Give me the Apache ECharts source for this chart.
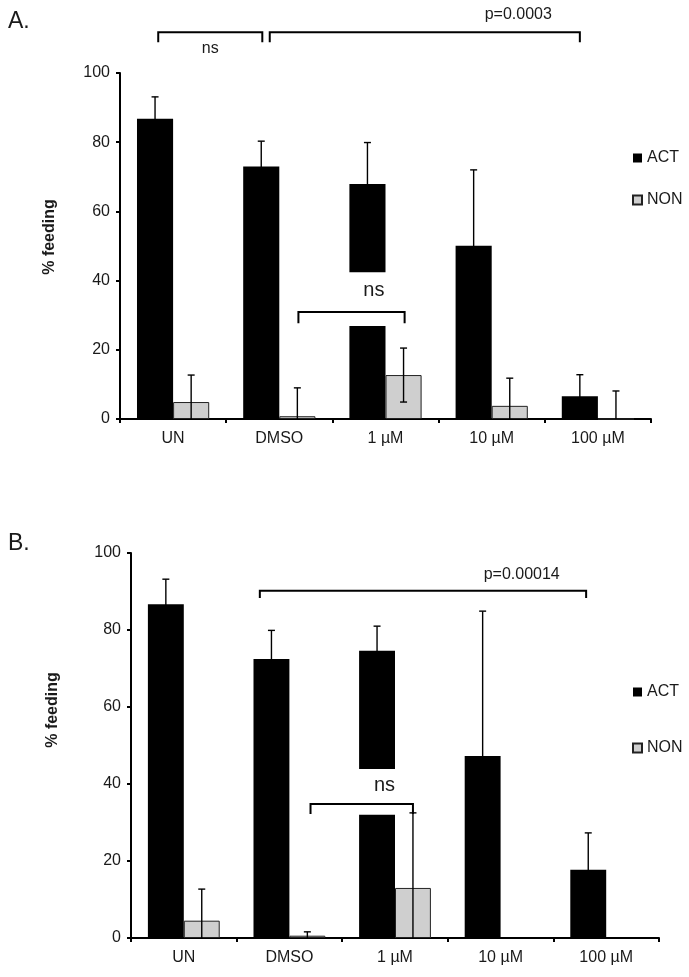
<!DOCTYPE html>
<html>
<head>
<meta charset="utf-8">
<script src="https://cdn.jsdelivr.net/npm/echarts@6/dist/echarts.min.js"></script>
<style>
html,body{margin:0;padding:0;background:#fff;}
#chart{width:689px;height:977px;}
</style>
</head>
<body>
<div id="chart"></div>
<script>
// ---- data ----
const categories = ['UN', 'DMSO', '1 µM', '10 µM', '100 µM'];
const seriesNames = ['ACT', 'NON'];

const actA = [86.8, 73.0, 67.9, 50.1, 6.6];
const actErrA = [6.3, 7.3, 12.0, 21.9, 6.2];
const nonA = [4.9, 0.8, 12.7, 3.8, 0];
const nonErrA = [7.8, 8.2, 7.8, 8.0, 8.1];

const actB = [86.7, 72.5, 74.6, 47.3, 17.7];
const actErrB = [6.5, 7.4, 6.4, 37.6, 9.6];
const nonB = [4.5, 0.6, 13.0, null, null];
const nonErrB = [8.2, 1.0, 19.5, null, null];

const yMin = 0, yMax = 100, yStep = 20;

// significance annotations (category index + fraction of band, value units)
const notesA = [
  {from: [0, -0.14], to: [1, -0.16], y: 111.8, drop: 2.9, text: 'ns', tAt: null, tY: 107.0, fs: 16},
  {from: [1, -0.09], to: [4, -0.17], y: 111.8, drop: 2.9, text: 'p=0.0003', tAt: [3, 0.25], tY: 116.8, fs: 16},
  {from: [1, 0.18], to: [2, 0.18], y: 30.9, drop: 3.2, text: 'ns', tAt: [2, -0.11], tY: 37.0, fs: 20, box: [26.9, 42.4]}
];
const notesB = [
  {from: [1, -0.28], to: [4, -0.19], y: 90.2, drop: 1.9, text: 'p=0.00014', tAt: [3, 0.2], tY: 94.3, fs: 16},
  {from: [1, 0.2], to: [2, 0.17], y: 34.8, drop: 2.6, text: 'ns', tAt: [2, -0.1], tY: 39.5, fs: 20, box: [32.0, 43.9]}
];

// ---- styles ----
const FONT = "'Liberation Sans', Arial, sans-serif";
const TXT = '#1a1a1a';
const ACT_COLOR = '#000000';
const NON_COLOR = '#cfcfcf';
const BAR_OFF = 0.17; // bar centre offset, fraction of category band

function bandX(api, cat, frac) {
  return api.coord([cat, 0])[0] + frac * api.size([1, 0])[0];
}

function errorRender(offset) {
  return function (params, api) {
    const cat = api.value(0), mean = api.value(1), err = api.value(2);
    if (err == null || isNaN(err) || isNaN(mean)) return null;
    const x = bandX(api, cat, offset);
    const yHi = api.coord([cat, mean + err])[1];
    const lowV = Math.max(0, mean - err);
    const yLo = api.coord([cat, lowV])[1];
    const cap = 3.5;
    const st = {stroke: '#000', lineWidth: 1.4};
    const ch = [
      {type: 'line', shape: {x1: x, y1: yLo, x2: x, y2: yHi}, style: st},
      {type: 'line', shape: {x1: x - cap, y1: yHi, x2: x + cap, y2: yHi}, style: st}
    ];
    if (mean - err >= 0) ch.push({type: 'line', shape: {x1: x - cap, y1: yLo, x2: x + cap, y2: yLo}, style: st});
    return {type: 'group', children: ch};
  };
}

function noteRender(notes) {
  return function (params, api) {
    const n = notes[params.dataIndex];
    const x1 = bandX(api, n.from[0], n.from[1]);
    const x2 = bandX(api, n.to[0], n.to[1]);
    const y = api.coord([0, n.y])[1];
    const yd = api.coord([0, n.y - n.drop])[1];
    const ch = [];
    if (n.box) {
      const yb1 = api.coord([0, n.box[1]])[1];
      const yb0 = api.coord([0, n.box[0]])[1];
      ch.push({type: 'rect', shape: {x: x1, y: yb1, width: x2 - x1, height: yb0 - yb1}, style: {fill: '#fff'}});
    }
    ch.push({type: 'polyline', shape: {points: [[x1, yd], [x1, y], [x2, y], [x2, yd]]},
      style: {stroke: '#000', lineWidth: 2, fill: null}});
    const tx = n.tAt ? bandX(api, n.tAt[0], n.tAt[1]) : (x1 + x2) / 2;
    const ty = api.coord([0, n.tY])[1];
    ch.push({type: 'text', x: tx, y: ty, style: {text: n.text, fontFamily: FONT, fontSize: n.fs,
      fill: TXT, align: 'center', verticalAlign: 'middle'}});
    return {type: 'group', children: ch};
  };
}

function panelSeries(idx, act, actErr, non, nonErr, notes) {
  const ax = {xAxisIndex: idx, yAxisIndex: idx};
  return [
    Object.assign({name: 'ACT', type: 'bar', data: act, barGap: '0%', barCategoryGap: '32%',
      itemStyle: {color: ACT_COLOR}, z: 2}, ax),
    Object.assign({name: 'NON', type: 'bar', data: non, barGap: '0%', barCategoryGap: '32%',
      itemStyle: {color: NON_COLOR, borderColor: '#222', borderWidth: 1}, z: 2}, ax),
    Object.assign({type: 'custom', renderItem: noteRender(notes), silent: true, clip: false, z: 3,
      data: notes.map(() => [0, 0])}, ax),
    Object.assign({type: 'custom', renderItem: errorRender(-BAR_OFF), silent: true, clip: false, z: 4,
      data: act.map((v, i) => [i, v, actErr[i]])}, ax),
    Object.assign({type: 'custom', renderItem: errorRender(BAR_OFF), silent: true, clip: false, z: 4,
      data: non.map((v, i) => [i, v == null ? 0 : v, nonErr[i]])}, ax)
  ];
}

function xAxisCfg(idx) {
  return {
    gridIndex: idx, type: 'category', data: categories,
    axisLine: {lineStyle: {color: '#000', width: 2}},
    axisTick: {show: true, length: 4, lineStyle: {color: '#000', width: 2}},
    axisLabel: {fontFamily: FONT, fontSize: 16, color: TXT, margin: 12}
  };
}
function yAxisCfg(idx) {
  return {
    gridIndex: idx, type: 'value', min: yMin, max: yMax, interval: yStep,
    axisLine: {show: true, lineStyle: {color: '#000', width: 2}},
    axisTick: {show: true, length: 4, lineStyle: {color: '#000', width: 2}},
    splitLine: {show: false},
    axisLabel: {fontFamily: FONT, fontSize: 16, color: TXT, margin: 10}
  };
}

function legendCfg(top, gap) {
  return {
    data: seriesNames, orient: 'vertical', left: 627, top: top, itemGap: gap,
    itemWidth: 9, itemHeight: 9, icon: 'rect', selectedMode: false,
    textStyle: {fontFamily: FONT, fontSize: 16, color: TXT}
  };
}

const chart = echarts.init(document.getElementById('chart'), null, {renderer: 'canvas'});
chart.setOption({
  animation: false,
  backgroundColor: '#fff',
  title: [
    {text: 'A.', left: 8, top: 10, padding: 0, textStyle: {fontFamily: FONT, fontSize: 23, fontWeight: 'normal', color: TXT}},
    {text: 'B.', left: 8, top: 532, padding: 0, textStyle: {fontFamily: FONT, fontSize: 23, fontWeight: 'normal', color: TXT}}
  ],
  legend: [legendCfg(145, 26), legendCfg(679, 40)],
  grid: [
    {left: 120, right: 38, top: 73, height: 346},
    {left: 131, right: 30, top: 553, height: 385}
  ],
  xAxis: [xAxisCfg(0), xAxisCfg(1)],
  yAxis: [yAxisCfg(0), yAxisCfg(1)],
  graphic: [
    {type: 'text', x: 50, y: 237, rotation: Math.PI / 2,
      style: {text: '% feeding', fontFamily: FONT, fontSize: 16, fontWeight: 'bold', fill: TXT, align: 'center', verticalAlign: 'middle'}},
    {type: 'text', x: 53, y: 710, rotation: Math.PI / 2,
      style: {text: '% feeding', fontFamily: FONT, fontSize: 16, fontWeight: 'bold', fill: TXT, align: 'center', verticalAlign: 'middle'}}
  ],
  series: [].concat(
    panelSeries(0, actA, actErrA, nonA, nonErrA, notesA),
    panelSeries(1, actB, actErrB, nonB, nonErrB, notesB)
  )
});
</script>
</body>
</html>
